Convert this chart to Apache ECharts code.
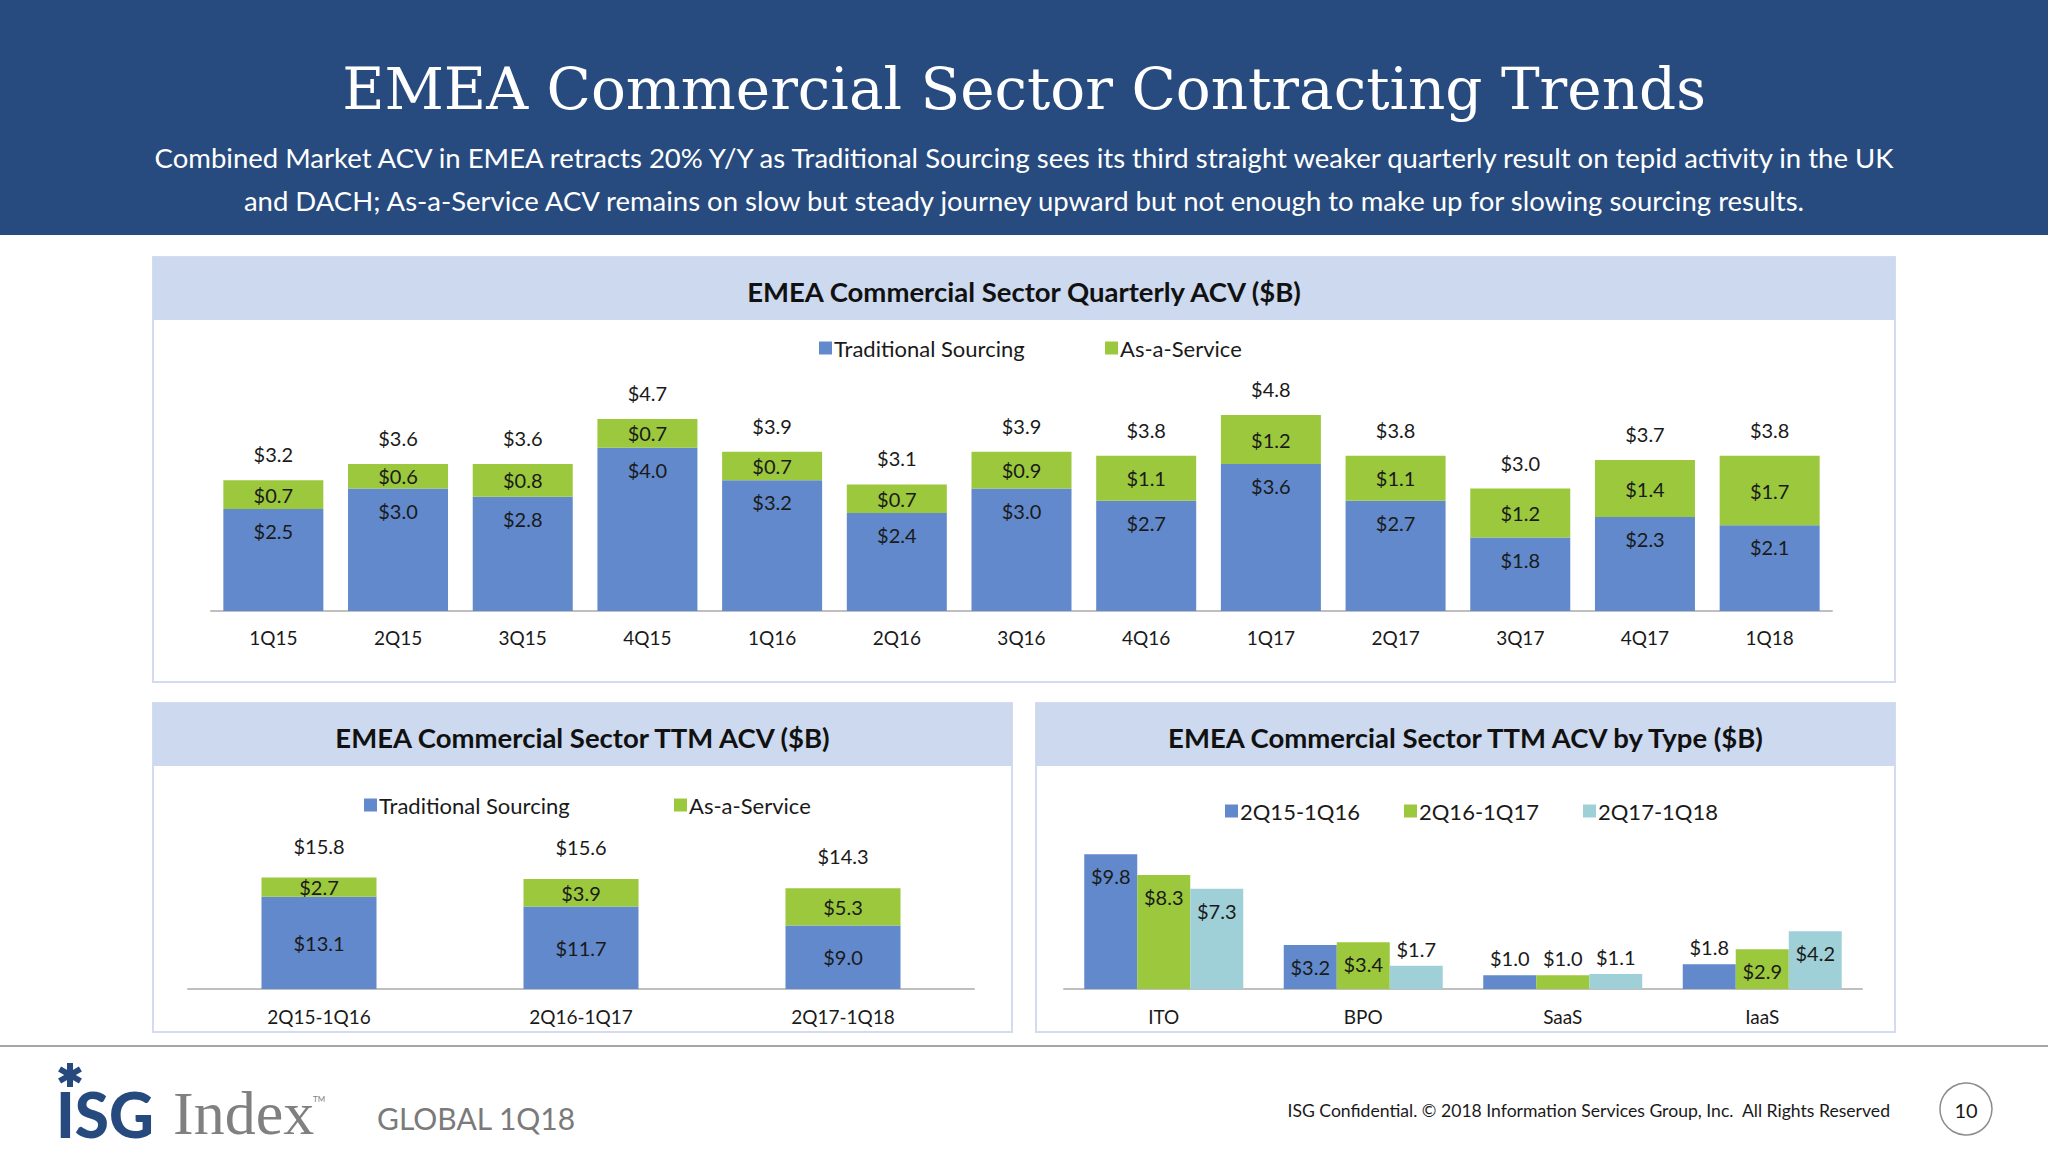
<!DOCTYPE html>
<html>
<head>
<meta charset="utf-8">
<script src="https://cdn.jsdelivr.net/npm/echarts@6/dist/echarts.min.js"></script>
<style>
html,body{margin:0;padding:0;background:#ffffff;}
#main{width:2048px;height:1152px;}
</style>
</head>
<body>
<div id="main"></div>
<script>
// ---- Data ----
const quarters = ['1Q15','2Q15','3Q15','4Q15','1Q16','2Q16','3Q16','4Q16','1Q17','2Q17','3Q17','4Q17','1Q18'];
const tradQuarterly = [2.5,3.0,2.8,4.0,3.2,2.4,3.0,2.7,3.6,2.7,1.8,2.3,2.1];
const aasQuarterly  = [0.7,0.6,0.8,0.7,0.7,0.7,0.9,1.1,1.2,1.1,1.2,1.4,1.7];
const totalQuarterly = [3.2,3.6,3.6,4.7,3.9,3.1,3.9,3.8,4.8,3.8,3.0,3.7,3.8];

const ttmPeriods = ['2Q15-1Q16','2Q16-1Q17','2Q17-1Q18'];
const tradTTM = [13.1,11.7,9.0];
const aasTTM  = [2.7,3.9,5.3];
const totalTTM = [15.8,15.6,14.3];

const types = ['ITO','BPO','SaaS','IaaS'];
const typePeriod1 = [9.8,3.2,1.0,1.8];
const typePeriod2 = [8.3,3.4,1.0,2.9];
const typePeriod3 = [7.3,1.7,1.1,4.2];

const seriesNames = ['Traditional Sourcing','As-a-Service'];
const typeSeriesNames = ['2Q15-1Q16','2Q16-1Q17','2Q17-1Q18'];

// ---- Style ----
const BLUE = '#6189cb', GREEN = '#9bc83c', TEAL = '#a0d0d7';
const FONT = 'Lato';
const TXT = '#1a1a1a';
const fmt = p => '$' + Number(p.value).toFixed(1);

const chart = echarts.init(document.getElementById('main'), null, {renderer:'svg'});

function axisX(gridIndex, data, margin){
  return {type:'category', gridIndex, data,
    axisTick:{show:false},
    axisLine:{lineStyle:{color:'#bfbfbf', width:2}},
    axisLabel:{color:TXT, fontSize:19, fontFamily:FONT, margin}};
}
function axisY(gridIndex, max){
  return {type:'value', gridIndex, min:0, max, show:false, splitLine:{show:false}};
}
const lbl = (position, distance) => ({show:true, position, distance, formatter:fmt, color:TXT, fontSize:20, fontFamily:FONT});

function typeData(arr){
  return arr.map(v => ({value:v, label:{position: v < 2.5 ? 'top' : 'insideTop', distance: v < 2.5 ? 7 : 12}}));
}

function legendAt(name, left, top){
  return {data:[name], left, top, itemWidth:13, itemHeight:13, icon:'rect', selectedMode:false,
    textStyle:{fontSize:22, fontFamily:FONT, color:TXT, padding:[0,0,0,-3]}, padding:0};
}

function panel(x1,y1,x2,y2,title){
  return [
    {type:'rect', shape:{x:x1, y:y1, width:x2-x1, height:y2-y1}, style:{fill:'#ffffff', stroke:'#d5dbee', lineWidth:2}, z:0},
    {type:'rect', shape:{x:x1, y:y1, width:x2-x1, height:63}, style:{fill:'#ccd9ee'}, z:0},
    {type:'text', x:(x1+x2)/2, y:y1+34, style:{text:title, fill:'#111111', fontSize:27.5, fontWeight:'bold', fontFamily:FONT, align:'center', verticalAlign:'middle'}, z:1}
  ];
}

// asterisk mark of the logo drawn as three crossing strokes
const AX = 70, AY = 1075, AR = 12;
const asterisk = [90, 30, 150].map(a => {
  const r = a * Math.PI / 180;
  return {type:'line', shape:{x1:AX - AR*Math.cos(r), y1:AY - AR*Math.sin(r), x2:AX + AR*Math.cos(r), y2:AY + AR*Math.sin(r)},
    style:{stroke:'#264a7d', lineWidth:6}, z:1};
});

const graphics = [
  {type:'rect', shape:{x:0, y:0, width:2048, height:235}, style:{fill:'#274b7e'}, z:0},
  {type:'text', x:1024, y:89, style:{text:'EMEA Commercial Sector Contracting Trends', fill:'#ffffff', fontSize:58, fontFamily:'DejaVu Serif', align:'center', verticalAlign:'middle'}, z:1},
  {type:'text', x:1024, y:157, style:{text:'Combined Market ACV in EMEA retracts 20% Y/Y as Traditional Sourcing sees its third straight weaker quarterly result on tepid activity in the UK', fill:'#ffffff', fontSize:27.5, fontFamily:FONT, align:'center', verticalAlign:'middle'}, z:1},
  {type:'text', x:1024, y:200, style:{text:'and DACH; As-a-Service ACV remains on slow but steady journey upward but not enough to make up for slowing sourcing results.', fill:'#ffffff', fontSize:27.5, fontFamily:FONT, align:'center', verticalAlign:'middle'}, z:1},
  ...panel(153,257,1895,682,'EMEA Commercial Sector Quarterly ACV ($B)'),
  ...panel(153,703,1012,1032,'EMEA Commercial Sector TTM ACV ($B)'),
  ...panel(1036,703,1895,1032,'EMEA Commercial Sector TTM ACV by Type ($B)'),
  {type:'line', shape:{x1:0, y1:1046, x2:2048, y2:1046}, style:{stroke:'#a6a6a6', lineWidth:2}, z:0},
  // footer logo
  ...asterisk,
  {type:'text', x:56, y:1114, style:{text:'ISG', fill:'#264a7d', fontSize:62, fontWeight:900, fontFamily:FONT, align:'left', verticalAlign:'middle'}, z:1},
  {type:'text', x:173, y:1113, style:{text:'Index', fill:'#808080', fontSize:62, fontFamily:'Liberation Serif', align:'left', verticalAlign:'middle'}, z:1},
  {type:'text', x:313, y:1099, style:{text:'TM', fill:'#808080', fontSize:8, fontFamily:FONT, align:'left', verticalAlign:'middle'}, z:1},
  {type:'text', x:377, y:1118, style:{text:'GLOBAL 1Q18', fill:'#7a7a7a', fontSize:30, fontFamily:FONT, align:'left', verticalAlign:'middle'}, z:1},
  {type:'text', x:1890, y:1110, style:{text:'ISG Confidential. \u00A9 2018 Information Services Group, Inc.  All Rights Reserved', fill:'#1a1a1a', fontSize:17.6, fontFamily:FONT, align:'right', verticalAlign:'middle'}, z:1},
  {type:'circle', shape:{cx:1966, cy:1109, r:26}, style:{fill:'#ffffff', stroke:'#8c8c8c', lineWidth:1.5}, z:1},
  {type:'text', x:1966, y:1110, style:{text:'10', fill:'#1a1a1a', fontSize:20, fontFamily:FONT, align:'center', verticalAlign:'middle'}, z:2}
];

const option = {
  backgroundColor:'#ffffff',
  animation:false,
  graphic: graphics,
  legend: [
    legendAt(seriesNames[0], 819, 337),
    legendAt(seriesNames[1], 1105, 337),
    legendAt(seriesNames[0], 364, 794),
    legendAt(seriesNames[1], 674, 794),
    legendAt(typeSeriesNames[0], 1225, 800),
    legendAt(typeSeriesNames[1], 1404, 800),
    legendAt(typeSeriesNames[2], 1583, 800)
  ],
  grid: [
    {left:211, width:1621, top:366, height:245},
    {left:188, width:786, top:848, height:141},
    {left:1064, width:798, top:824, height:165}
  ],
  xAxis: [axisX(0, quarters, 17), axisX(1, ttmPeriods, 18), axisX(2, types, 18)],
  yAxis: [axisY(0, 6), axisY(1, 20), axisY(2, 12)],
  series: [
    {name:seriesNames[0], type:'bar', xAxisIndex:0, yAxisIndex:0, stack:'q', data:tradQuarterly, barWidth:100, itemStyle:{color:BLUE}, label:lbl('insideTop', 12)},
    {name:seriesNames[1], type:'bar', xAxisIndex:0, yAxisIndex:0, stack:'q', data:aasQuarterly, barWidth:100, itemStyle:{color:GREEN}, label:lbl('inside', 0)},
    {name:'Total', type:'bar', xAxisIndex:0, yAxisIndex:0, data:totalQuarterly, barWidth:100, barGap:'-100%', silent:true, itemStyle:{color:'rgba(0,0,0,0)'}, label:lbl('top', 16), z:1},

    {name:seriesNames[0], type:'bar', xAxisIndex:1, yAxisIndex:1, stack:'t', data:tradTTM, barWidth:115, itemStyle:{color:BLUE}, label:lbl('inside', 0)},
    {name:seriesNames[1], type:'bar', xAxisIndex:1, yAxisIndex:1, stack:'t', data:aasTTM, barWidth:115, itemStyle:{color:GREEN}, label:lbl('inside', 0)},
    {name:'TTM Total', type:'bar', xAxisIndex:1, yAxisIndex:1, data:totalTTM, barWidth:115, barGap:'-100%', silent:true, itemStyle:{color:'rgba(0,0,0,0)'}, label:lbl('top', 22), z:1},

    {name:typeSeriesNames[0], type:'bar', xAxisIndex:2, yAxisIndex:2, data:typeData(typePeriod1), barWidth:53, barGap:'0%', itemStyle:{color:BLUE}, label:lbl('insideTop', 12)},
    {name:typeSeriesNames[1], type:'bar', xAxisIndex:2, yAxisIndex:2, data:typeData(typePeriod2), barWidth:53, barGap:'0%', itemStyle:{color:GREEN}, label:lbl('insideTop', 12)},
    {name:typeSeriesNames[2], type:'bar', xAxisIndex:2, yAxisIndex:2, data:typeData(typePeriod3), barWidth:53, barGap:'0%', itemStyle:{color:TEAL}, label:lbl('insideTop', 12)}
  ]
};
chart.setOption(option);
</script>
</body>
</html>
